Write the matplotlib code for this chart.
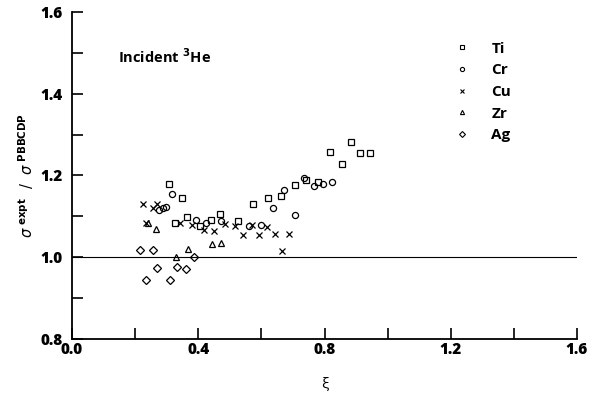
import matplotlib
matplotlib.use("Agg")
import matplotlib.pyplot as plt
from matplotlib.ticker import MultipleLocator, FixedLocator
from matplotlib.lines import Line2D

plt.rcParams['font.family'] = ['Open Sans', 'DejaVu Sans']
plt.rcParams['mathtext.fontset'] = 'dejavusans'

# ---- data ----
ti_x = [0.308, 0.350, 0.327, 0.365, 0.404, 0.440, 0.469, 0.525, 0.575, 0.621, 0.662,
        0.706, 0.740, 0.779, 0.817, 0.855, 0.884, 0.914, 0.943]
ti_y = [1.180, 1.144, 1.083, 1.099, 1.076, 1.091, 1.107, 1.089, 1.130, 1.146, 1.149,
        1.176, 1.189, 1.183, 1.258, 1.227, 1.281, 1.256, 1.256]

cr_x = [0.276, 0.289, 0.298, 0.317, 0.392, 0.425, 0.472, 0.560, 0.599, 0.636, 0.673,
        0.708, 0.736, 0.766, 0.794, 0.825]
cr_y = [1.115, 1.120, 1.122, 1.154, 1.091, 1.083, 1.089, 1.076, 1.078, 1.120, 1.164,
        1.104, 1.195, 1.174, 1.179, 1.185]

cu_x = [0.225, 0.236, 0.256, 0.268, 0.342, 0.381, 0.419, 0.451, 0.486, 0.516, 0.543,
        0.571, 0.593, 0.619, 0.642, 0.665, 0.688]
cu_y = [1.130, 1.085, 1.121, 1.130, 1.083, 1.078, 1.067, 1.063, 1.082, 1.076, 1.054,
        1.080, 1.054, 1.073, 1.057, 1.016, 1.057]

zr_x = [0.240, 0.265, 0.331, 0.369, 0.444, 0.473]
zr_y = [1.085, 1.070, 1.001, 1.020, 1.032, 1.035]

ag_x = [0.214, 0.236, 0.256, 0.269, 0.311, 0.334, 0.361, 0.387]
ag_y = [1.018, 0.945, 1.018, 0.973, 0.944, 0.975, 0.971, 1.001]

series = [
    ("Ti", ti_x, ti_y, "s"),
    ("Cr", cr_x, cr_y, "o"),
    ("Cu", cu_x, cu_y, "x"),
    ("Zr", zr_x, zr_y, "^"),
    ("Ag", ag_x, ag_y, "D"),
]

W, H = 596, 398
fig = plt.figure(figsize=(W / 100, H / 100), dpi=100)
ax = fig.add_axes([72 / W, 59 / H, 505 / W, 327 / H])

for name, xs, ys, m in series:
    ms = {"s": 4.4, "o": 4.4, "x": 4.4, "^": 4.4, "D": 3.8}[m]
    ax.plot(xs, ys, linestyle="none", marker=m, markersize=ms,
            markerfacecolor="none", markeredgecolor="black",
            color="black", markeredgewidth=0.9)

ax.axhline(1.0, color="black", linewidth=0.8)

ax.set_xlim(0.0, 1.6)
ax.set_ylim(0.8, 1.6)

ax.spines['top'].set_visible(False)
ax.spines['right'].set_visible(False)
for s in ('left', 'bottom'):
    ax.spines[s].set_linewidth(1.3)

ax.xaxis.set_major_locator(FixedLocator([0.0, 0.4, 0.8, 1.2, 1.6]))
ax.xaxis.set_minor_locator(FixedLocator([0.2, 0.6, 1.0, 1.4]))
ax.yaxis.set_major_locator(MultipleLocator(0.2))
ax.yaxis.set_minor_locator(MultipleLocator(0.1))
ax.tick_params(which='both', direction='in', length=8, width=1.2, color='black')
ax.tick_params(axis='y', pad=7)
ax.tick_params(axis='x', pad=2)
ax.set_xticklabels(["0.0", "0.4", "0.8", "1.2", "1.6"], fontsize=11, fontweight='heavy')
ax.set_yticklabels([f"{v:.1f}" for v in ax.get_yticks()], fontsize=11, fontweight='heavy')

ax.set_xlabel("ξ", fontsize=11, labelpad=14)
ax.set_ylabel(r"$\sigma^{\ \mathbf{expt}}\ \ /\ \ \sigma^{\ \mathbf{PBBCDP}}$",
              fontsize=10.5, labelpad=2)

fig.text(118 / W, 1 - 57 / H, "Incident $\\mathbf{^3}$He", fontsize=10.5,
         fontweight='bold', va='center', ha='left')

# legend
handles = [Line2D([], [], linestyle="none", marker=m, markersize=3,
                  markerfacecolor="none", markeredgecolor="black", markeredgewidth=0.8,
                  color="black") for _, _, _, m in series]
labels = [n for n, _, _, _ in series]
ax.legend(handles, labels, loc='upper left', bbox_to_anchor=(0.729, 0.951),
          frameon=False, handletextpad=1.45, labelspacing=0.5,
          prop={'weight': 'bold', 'size': 11}, handlelength=1.0)

fig.savefig("out.png", dpi=100)
